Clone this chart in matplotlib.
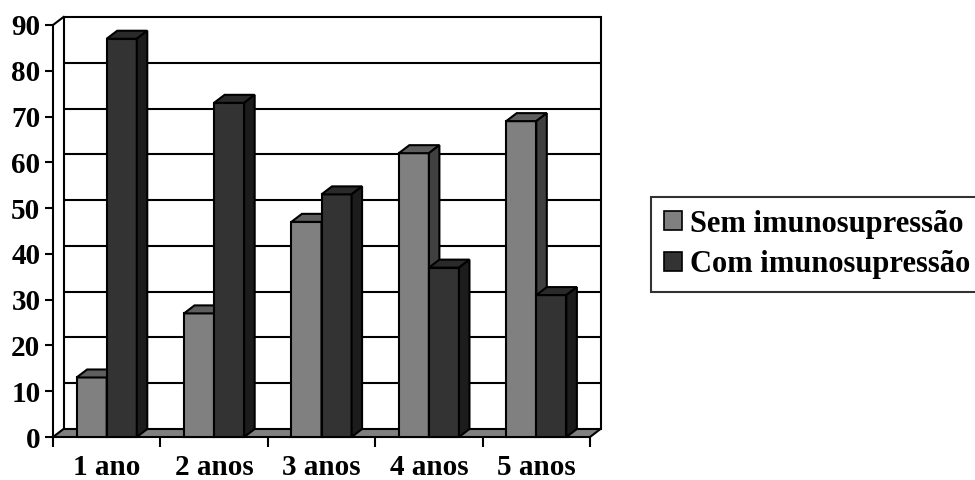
import matplotlib
matplotlib.use("Agg")
import matplotlib.pyplot as plt
from matplotlib.patches import Polygon, Patch

# Data
categories = ["1 ano", "2 anos", "3 anos", "4 anos", "5 anos"]
series_names = ["Sem imunosupressão", "Com imunosupressão"]
sem_values = [13, 27, 47, 62, 69]
com_values = [87, 73, 53, 37, 31]
y_ticks = [0, 10, 20, 30, 40, 50, 60, 70, 80, 90]

# Face colours (front, top, side) for each series
sem_colors = ("#808080", "#5e5e5e", "#404040")
com_colors = ("#333333", "#2a2a2a", "#1c1c1c")

plt.rcParams["font.family"] = ["Liberation Serif", "DejaVu Serif"]
plt.rcParams["font.weight"] = "bold"

W, H = 975, 480
fig = plt.figure(figsize=(W / 100, H / 100), dpi=100)
fig.patch.set_facecolor("white")

# Axes: front plane of the 3D box
ax_l, ax_r, ax_b, ax_t = 53, 590, 43, 455
ax = fig.add_axes([ax_l / W, ax_b / H, (ax_r - ax_l) / W, (ax_t - ax_b) / H])
ax.set_xlim(0, len(categories))
ax.set_ylim(0, 90)
ax.set_facecolor("none")

# Depth offset in data units
px_x = (ax_r - ax_l) / len(categories)
px_y = (ax_t - ax_b) / 90.0
ddx = 10.5 / px_x
ddy = 8.0 / px_y
n = len(categories)
lw = 1.5

# Back wall gridlines
for v in y_ticks[1:]:
    ax.plot([ddx, n + ddx], [v + ddy, v + ddy], color="black", lw=lw,
            clip_on=False, zorder=1, solid_capstyle="butt")
# Back wall edges and left wall
ax.plot([ddx, ddx], [ddy, 90 + ddy], color="black", lw=lw, clip_on=False, zorder=1)
ax.plot([n + ddx, n + ddx], [ddy, 90 + ddy], color="black", lw=lw, clip_on=False, zorder=1)
ax.plot([0, ddx], [90, 90 + ddy], color="black", lw=lw, clip_on=False, zorder=1)

# Floor
floor = Polygon([(0, 0), (n, 0), (n + ddx, ddy), (ddx, ddy)], closed=True,
                facecolor="#808080", edgecolor="black", lw=lw, clip_on=False,
                zorder=2, joinstyle="miter")
ax.add_patch(floor)


def bar3d(x0, width, h, colors, z):
    front, top, side = colors
    faces = [
        ([(x0, 0), (x0 + width, 0), (x0 + width, h), (x0, h)], front),
        ([(x0, h), (x0 + width, h), (x0 + width + ddx, h + ddy), (x0 + ddx, h + ddy)], top),
        ([(x0 + width, 0), (x0 + width + ddx, ddy), (x0 + width + ddx, h + ddy), (x0 + width, h)], side),
    ]
    for pts, c in faces:
        ax.add_patch(Polygon(pts, closed=True, facecolor=c, edgecolor="black",
                             lw=lw, clip_on=False, zorder=z, joinstyle="miter"))


bw = 0.28
for i in range(n):
    c = i + 0.5
    bar3d(c - bw, bw, sem_values[i], sem_colors, 3 + 2 * i)
    bar3d(c, bw, com_values[i], com_colors, 4 + 2 * i)

# Axes styling
for s in ["top", "right", "bottom"]:
    ax.spines[s].set_visible(False)
ax.spines["left"].set_linewidth(lw)
ax.spines["left"].set_zorder(20)
ax.set_yticks(y_ticks)
ax.set_yticklabels([str(v) for v in y_ticks])
ax.tick_params(axis="y", direction="out", length=6, width=lw, pad=3,
               labelsize=21)

ax.set_xticks([i + 0.5 for i in range(n)])
ax.set_xticklabels(categories)
ax.set_xticks(range(n + 1), minor=True)
ax.tick_params(axis="x", which="major", length=0, pad=12, labelsize=21)
ax.tick_params(axis="x", which="minor", direction="out", length=7, width=lw)
for lab in ax.get_xticklabels() + ax.get_yticklabels():
    lab.set_fontweight("bold")

# Legend (its right edge runs past the figure border)
handles = [Patch(facecolor=sem_colors[0], edgecolor="black", lw=1.2),
           Patch(facecolor=com_colors[0], edgecolor="black", lw=1.2)]
leg = fig.legend(handles, series_names, loc="lower left",
                 bbox_to_anchor=(651 / W, (H - 292) / H), borderaxespad=0,
                 frameon=True, fancybox=False, shadow=False,
                 prop={"family": "Liberation Serif", "weight": "bold", "size": 22},
                 handlelength=0.6, handleheight=0.6, handletextpad=0.25,
                 labelspacing=0.38, borderpad=0.42)
leg.get_frame().set_edgecolor("black")
leg.get_frame().set_linewidth(lw)

fig.savefig("out.png", dpi=100, facecolor="white")
